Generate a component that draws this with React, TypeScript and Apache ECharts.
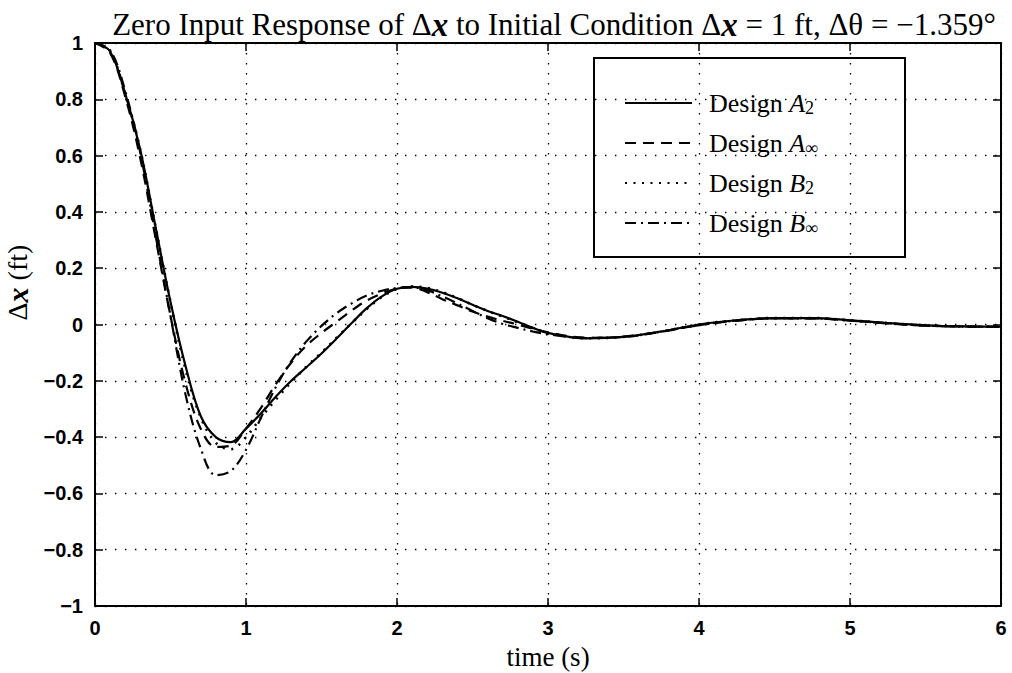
import React, { useEffect, useRef } from "react";
import * as echarts from "echarts";

// time samples (s)
const time = [
  0, 0.1, 0.2, 0.3, 0.4, 0.5, 0.6, 0.7, 0.8, 0.9, 1.0, 1.1, 1.2, 1.3, 1.4, 1.5,
  1.6, 1.7, 1.8, 1.9, 2.0, 2.1, 2.2, 2.3, 2.4, 2.5, 2.6, 2.7, 2.8, 2.9, 3.0,
  3.25, 3.5, 3.75, 4.0, 4.25, 4.5, 4.75, 5.0, 5.25, 5.5, 5.75, 6.0,
];

// Δx (ft) for each design
const designA2 = [
  1.0, 0.97, 0.82, 0.62, 0.35, 0.08, -0.148, -0.325, -0.4, -0.418, -0.37,
  -0.315, -0.255, -0.2, -0.152, -0.103, -0.05, 0.005, 0.058, 0.1, 0.127, 0.134,
  0.128, 0.113, 0.093, 0.07, 0.048, 0.03, 0.01, -0.012, -0.03, -0.049, -0.044,
  -0.025, 0.0, 0.015, 0.023, 0.023, 0.015, 0.005, -0.003, -0.007, -0.008,
];
const designAinf = [
  1.0, 0.965, 0.81, 0.59, 0.31, 0.03, -0.21, -0.37, -0.435, -0.43, -0.37,
  -0.295, -0.21, -0.135, -0.075, -0.03, 0.01, 0.05, 0.085, 0.11, 0.128, 0.132,
  0.115, 0.09, 0.068, 0.046, 0.028, 0.013, 0.0, -0.015, -0.028, -0.047,
  -0.044, -0.026, -0.002, 0.014, 0.022, 0.022, 0.014, 0.004, -0.004, -0.007,
  -0.008,
];
const designB2 = [
  1.0, 0.97, 0.82, 0.62, 0.35, 0.08, -0.16, -0.33, -0.42, -0.443, -0.4, -0.33,
  -0.265, -0.205, -0.15, -0.1, -0.047, 0.005, 0.055, 0.098, 0.126, 0.135,
  0.13, 0.115, 0.094, 0.07, 0.048, 0.028, 0.008, -0.013, -0.031, -0.049,
  -0.044, -0.025, 0.0, 0.015, 0.023, 0.023, 0.015, 0.005, -0.003, -0.007,
  -0.008,
];
const designBinf = [
  1.0, 0.975, 0.83, 0.61, 0.32, 0.03, -0.25, -0.44, -0.535, -0.52, -0.445,
  -0.33, -0.22, -0.13, -0.06, -0.005, 0.04, 0.075, 0.103, 0.12, 0.13, 0.132,
  0.122, 0.1, 0.075, 0.048, 0.022, 0.002, -0.012, -0.025, -0.035, -0.048,
  -0.043, -0.025, -0.002, 0.014, 0.022, 0.022, 0.014, 0.004, -0.004, -0.007,
  -0.008,
];

const seriesNames = ["Design A2", "Design A∞", "Design B2", "Design B∞"];
const legendRich: Record<string, string> = {
  "Design A2": "{d|Design }{i|A}{s|2}",
  "Design A∞": "{d|Design }{i|A}{s|∞}",
  "Design B2": "{d|Design }{i|B}{s|2}",
  "Design B∞": "{d|Design }{i|B}{s|∞}",
};

const serif = "Liberation Serif";
const sans = "Liberation Sans";

export default function App() {
  const ref = useRef<HTMLDivElement>(null);
  useEffect(() => {
    const chart = echarts.init(ref.current!, null, { renderer: "svg" });
    const pairs = (ys: number[]) => time.map((t, i) => [t, ys[i]]);
    const dashStyles: any[] = ["solid", [11, 7], [2, 6.5], [11, 5, 2, 5]];
    const values = [designA2, designAinf, designB2, designBinf];
    const minusFmt = (v: number) => {
      const s = Number(v.toFixed(1)).toString();
      return s.replace("-", "\u2212");
    };
    const gridLine = {
      show: true,
      lineStyle: { color: "#000", width: 1.3, type: [1.4, 8.6] as any },
    };
    const option: any = {
      animation: false,
      backgroundColor: "#fff",
      title: {
        text:
          "Zero Input Response of Δ{b|x} to Initial Condition Δ{b|x} = 1 ft, Δθ = \u22121.359°",
        left: 549,
        top: 3,
        textAlign: "center",
        textStyle: {
          fontFamily: serif,
          fontSize: 31,
          fontWeight: "normal",
          color: "#000",
          rich: {
            b: {
              fontFamily: serif,
              fontSize: 33,
              fontStyle: "italic",
              fontWeight: "bold",
              color: "#000",
            },
          },
        },
      },
      grid: { left: 95, right: 11, top: 43, bottom: 67, outerBoundsMode: "none", containLabel: false },
      legend: {
        orient: "vertical",
        left: 619,
        top: 85,
        itemWidth: 67,
        itemHeight: 14,
        itemGap: 13,
        data: seriesNames,
        itemStyle: { opacity: 0, borderWidth: 0 },
        formatter: (name: string) => legendRich[name],
        textStyle: {
          fontFamily: serif,
          fontSize: 26,
          color: "#000",
          rich: {
            d: { fontFamily: serif, fontSize: 26, color: "#000", padding: [0, 0, 0, 12], lineHeight: 28 },
            i: { fontFamily: serif, fontSize: 26, fontStyle: "italic", color: "#000", lineHeight: 28 },
            s: { fontFamily: serif, fontSize: 18, color: "#000", lineHeight: 16, verticalAlign: "bottom" },
          },
        },
      },
      graphic: [
        {
          type: "rect",
          z: 10,
          shape: { x: 594, y: 58, width: 311, height: 199 },
          style: { fill: "none", stroke: "#000", lineWidth: 2 },
        },
      ],
      xAxis: [
        {
          type: "value",
          min: 0,
          max: 6,
          interval: 1,
          name: "time (s)",
          nameLocation: "middle",
          nameGap: 37,
          nameTextStyle: { fontFamily: serif, fontSize: 27, color: "#000" },
          axisLine: { show: true, onZero: false, lineStyle: { color: "#000", width: 2 } },
          axisTick: { show: true, inside: true, length: 8, lineStyle: { color: "#000", width: 1.5 } },
          axisLabel: { fontFamily: sans, fontWeight: "bold", fontSize: 20, color: "#000", margin: 12 },
          splitLine: gridLine,
        },
        {
          type: "value",
          position: "top",
          min: 0,
          max: 6,
          interval: 1,
          axisLine: { show: true, onZero: false, lineStyle: { color: "#000", width: 2 } },
          axisTick: { show: true, inside: true, length: 8, lineStyle: { color: "#000", width: 1.5 } },
          axisLabel: { show: false },
          splitLine: { show: false },
        },
      ],
      yAxis: [
        {
          type: "value",
          min: -1,
          max: 1,
          interval: 0.2,
          name: "Δ{b|x} (ft)",
          nameLocation: "middle",
          nameGap: 56,
          nameRotate: 90,
          nameTextStyle: {
            fontFamily: serif,
            fontSize: 28,
            color: "#000",
            padding: [0, 0, 0, 84],
            rich: {
              b: { fontFamily: serif, fontSize: 30, fontStyle: "italic", fontWeight: "bold", color: "#000" },
            },
          },
          axisLine: { show: true, onZero: false, lineStyle: { color: "#000", width: 2 } },
          axisTick: { show: true, inside: true, length: 8, lineStyle: { color: "#000", width: 1.5 } },
          axisLabel: {
            fontFamily: sans,
            fontWeight: "bold",
            fontSize: 20,
            color: "#000",
            margin: 12,
            formatter: minusFmt,
          },
          splitLine: gridLine,
        },
        {
          type: "value",
          position: "right",
          min: -1,
          max: 1,
          interval: 0.2,
          axisLine: { show: true, onZero: false, lineStyle: { color: "#000", width: 2 } },
          axisTick: { show: true, inside: true, length: 8, lineStyle: { color: "#000", width: 1.5 } },
          axisLabel: { show: false },
          splitLine: { show: false },
        },
      ],
      series: values.map((ys, k) => ({
        name: seriesNames[k],
        type: "line",
        xAxisIndex: 0,
        yAxisIndex: 0,
        data: pairs(ys),
        smooth: 0.35,
        symbol: "none",
        color: "#000",
        lineStyle: {
          color: "#000",
          width: k === 2 ? 2.6 : 2.2,
          type: dashStyles[k],
        },
        z: 5,
      })),
    };
    chart.setOption(option);
    return () => chart.dispose();
  }, []);
  return (
    <div
      ref={ref}
      style={{ position: "absolute", left: 0, top: 0, width: 1012, height: 673, background: "#fff" }}
    />
  );
}
